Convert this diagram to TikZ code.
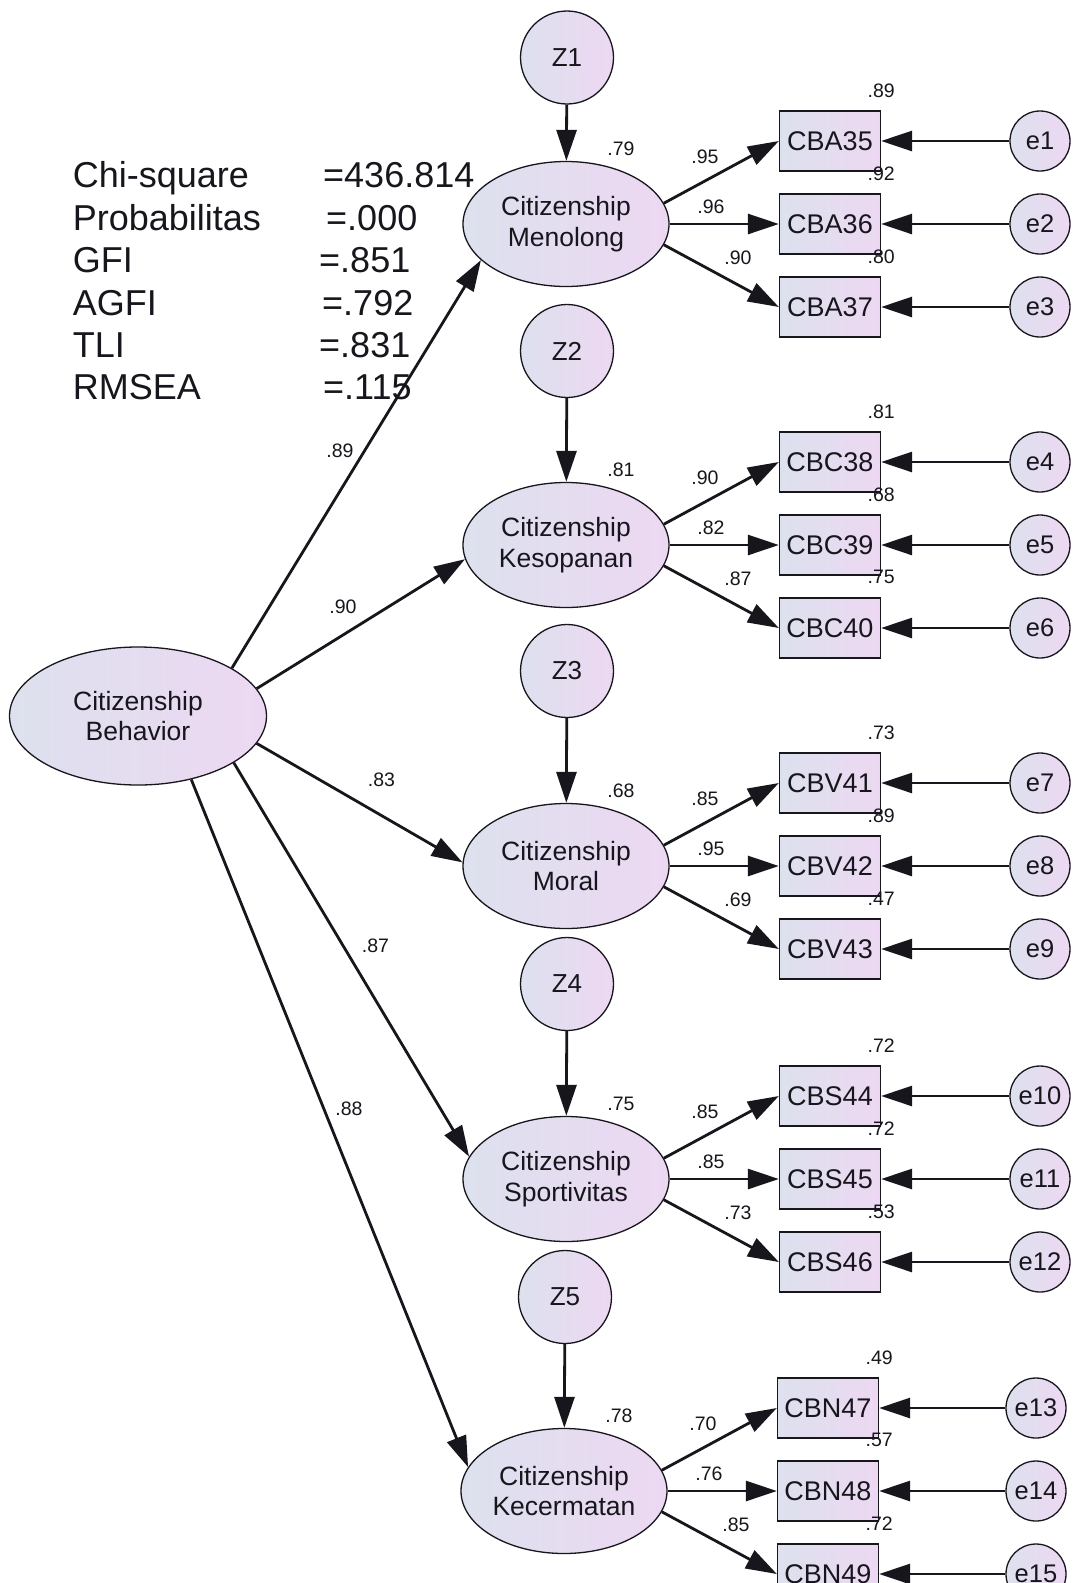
\documentclass[tikz,border=0pt]{standalone}
\usepackage{fontspec}
\setmainfont{Liberation Sans}
\usetikzlibrary{arrows.meta,shapes.geometric}
\definecolor{fillL}{RGB}{221,225,238}
\definecolor{fillR}{RGB}{237,216,242}
\definecolor{ink}{RGB}{22,22,28}
\begin{document}
\begin{tikzpicture}[x=1pt,y=-1pt,
  every node/.style={text=ink},
  latent/.style={ellipse, draw=ink, line width=1.3pt, left color=fillL, right color=fillR,
    minimum width=206pt, minimum height=125pt, inner sep=0pt, align=center,
    font=\fontsize{26.5}{30.5}\selectfont},
  obs/.style={rectangle, draw=ink, line width=1.3pt, left color=fillL, right color=fillR,
    minimum width=101pt, minimum height=60pt, inner sep=0pt,
    font=\fontsize{27}{30}\selectfont},
  err/.style={circle, draw=ink, line width=1.3pt, left color=fillL, right color=fillR,
    minimum size=60pt, inner sep=0pt, font=\fontsize{25.5}{28}\selectfont},
  dist/.style={circle, draw=ink, line width=1.3pt, left color=fillL, right color=fillR,
    minimum size=93pt, inner sep=0pt, font=\fontsize{26}{28}\selectfont},
  coef/.style={inner sep=0pt, font=\fontsize{19.5}{22}\selectfont},
  stat/.style={inner sep=0pt, anchor=base west, font=\fontsize{36}{40}\selectfont},
  arr/.style={draw=ink, line width=2.8pt, -{Triangle[length=31pt,width=20pt]}},
]
\useasboundingbox (0,0) rectangle (1075,1583);
\clip (0,0) rectangle (1075,1583);

% fit indices
\node[stat] (s1) at (72.7,187.5) {Chi-square};
\node[stat] (s2) at (72.7,230)   {Probabilitas};
\node[stat] (s3) at (72.7,272.5) {GFI};
\node[stat] (s4) at (72.7,315)   {AGFI};
\node[stat] (s5) at (72.7,357.5) {TLI};
\node[stat] (s6) at (72.7,399.5) {RMSEA};
\node[stat] (v1) at (323,187.5) {=436.814};
\node[stat] (v2) at (326,230)   {=.000};
\node[stat] (v3) at (319,272.5) {=.851};
\node[stat] (v4) at (322,315)   {=.792};
\node[stat] (v5) at (319,357.5) {=.831};
\node[stat] (v6) at (323,399.5) {=.115};

% second-order factor
\node[latent, minimum width=257pt, minimum height=138pt] (cb) at (138,716) {Citizenship\\Behavior};

% first-order factors with their indicators and error terms
\foreach \k/\y/\zy/\lx/\bx/\ex/\nm/\rsq/\la/\lb/\lc/\ia/\ib/\ic/\va/\vb/\vc/\ea/\eb/\ec in {
  1/224/57.5/566/830/1040/Menolong/.79/.95/.96/.90/CBA35/CBA36/CBA37/.89/.92/.80/e1/e2/e3,
  2/545/351/566/830/1040/Kesopanan/.81/.90/.82/.87/CBC38/CBC39/CBC40/.81/.68/.75/e4/e5/e6,
  3/866/671/566/830/1040/Moral/.68/.85/.95/.69/CBV41/CBV42/CBV43/.73/.89/.47/e7/e8/e9,
  4/1179/984/566/830/1040/Sportivitas/.75/.85/.85/.73/CBS44/CBS45/CBS46/.72/.72/.53/e10/e11/e12,
  5/1491/1297/564/828/1036/Kecermatan/.78/.70/.76/.85/CBN47/CBN48/CBN49/.49/.57/.72/e13/e14/e15}
{
  \node[dist] (z\k) at (\lx+1,\zy) {Z\k};
  \node[latent] (m\k) at (\lx,\y) {Citizenship\\\nm};
  \node[obs] (ba\k) at (\bx,\y-83) {\ia};
  \node[obs] (bb\k) at (\bx,\y) {\ib};
  \node[obs] (bc\k) at (\bx,\y+83) {\ic};
  \node[err] (ea\k) at (\ex,\y-83) {\ea};
  \node[err] (eb\k) at (\ex,\y) {\eb};
  \node[err] (ec\k) at (\ex,\y+83) {\ec};
  \draw[arr] (z\k) -- (m\k);
  \draw[arr] (m\k.12) -- (ba\k.west);
  \draw[arr] (m\k.east) -- (bb\k.west);
  \draw[arr] (m\k.348) -- (bc\k.west);
  \draw[arr] (ea\k) -- (ba\k);
  \draw[arr] (eb\k) -- (bb\k);
  \draw[arr] (ec\k) -- (bc\k);
  \node[coef] (r\k) at ([shift={(55,-75)}]m\k.center) {\rsq};
  \node[coef] (la\k) at ([shift={(139,-67)}]m\k.center) {\la};
  \node[coef] (lb\k) at ([shift={(145,-17)}]m\k.center) {\lb};
  \node[coef] (lc\k) at ([shift={(172,34)}]m\k.center) {\lc};
  \node[coef] (qa\k) at ([shift={(0,-20)}]ba\k.north east) {\va};
  \node[coef] (qb\k) at ([shift={(0,-20)}]bb\k.north east) {\vb};
  \node[coef] (qc\k) at ([shift={(0,-20)}]bc\k.north east) {\vc};
}

% structural paths
\draw[arr] (cb.27)  -- (m1.203);
\draw[arr] (cb.13)  -- (m2.188);
\draw[arr] (cb.347) -- (m3.178);
\draw[arr] (cb.334) -- (m4.167);
\draw[arr] (cb.310) -- (m5.166);
\node[coef] (p1) at (340,451)   {.89};
\node[coef] (p2) at (343,607)   {.90};
\node[coef] (p3) at (381.5,780) {.83};
\node[coef] (p4) at (375.5,946) {.87};
\node[coef] (p5) at (349,1109)  {.88};
\end{tikzpicture}
\end{document}
